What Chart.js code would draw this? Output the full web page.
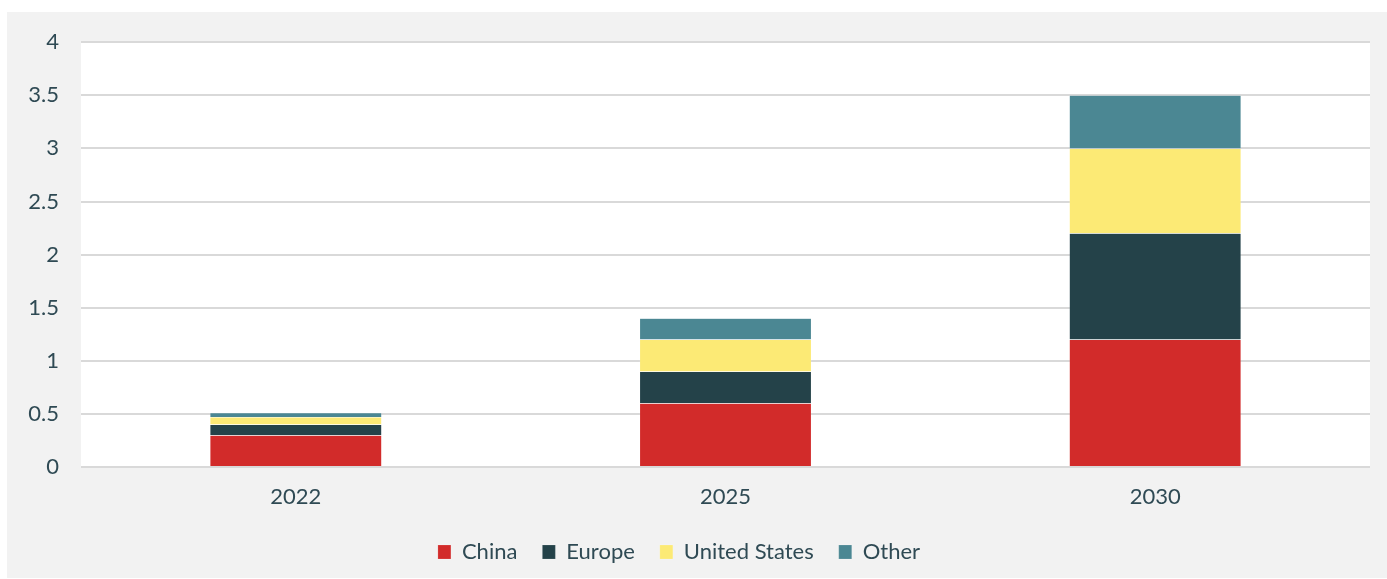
<!DOCTYPE html>
<html>
<head>
<meta charset="utf-8">
<script src="https://cdn.jsdelivr.net/npm/chart.js@4/dist/chart.umd.min.js"></script>
<style>
  html, body { margin: 0; padding: 0; background: #ffffff; }
  #wrap {
    position: absolute;
    left: 7px;
    top: 12px;
    width: 1380px;
    height: 566px;
    background: #f2f2f2;
  }
  #inner {
    position: absolute;
    left: 0;
    top: -5px;
    width: 1380px;
    height: 571px;
  }
</style>
</head>
<body>
<div id="wrap"><div id="inner"><canvas id="chart"></canvas></div></div>
<script>
const years = ["2022", "2025", "2030"];
const china = [0.3, 0.6, 1.2];
const europe = [0.1, 0.3, 1.0];
const unitedStates = [0.07, 0.3, 0.8];
const other = [0.04, 0.2, 0.5];
const yTicks = [0, 0.5, 1, 1.5, 2, 2.5, 3, 3.5, 4];

const textColor = "#2f4a54";
const fontFamily = "Lato, 'Open Sans', sans-serif";

// white fill behind the plot area only
const plotBackground = {
  id: "plotBackground",
  beforeDraw(chart) {
    const { ctx, chartArea } = chart;
    ctx.save();
    ctx.fillStyle = "#ffffff";
    ctx.fillRect(chartArea.left, chartArea.top, chartArea.right - chartArea.left, chartArea.bottom - chartArea.top);
    ctx.restore();
  }
};

function series(label, data, color) {
  return {
    label: label,
    data: data,
    backgroundColor: color,
    borderColor: "rgba(255,255,255,0.3)",
    borderWidth: 0.5,
    barPercentage: 0.4,
    categoryPercentage: 1
  };
}

new Chart(document.getElementById("chart"), {
  type: "bar",
  data: {
    labels: years,
    datasets: [
      series("China", china, "#d22b2a"),
      series("Europe", europe, "#244249"),
      series("United States", unitedStates, "#fcea75"),
      series("Other", other, "#4b8793")
    ]
  },
  options: {
    responsive: true,
    maintainAspectRatio: false,
    animation: false,
    layout: { padding: { top: 25, right: 17, left: -19, bottom: 5 } },
    scales: {
      x: {
        stacked: true,
        grid: { display: false, drawTicks: false },
        border: { display: false },
        ticks: {
          color: textColor,
          padding: 17,
          font: { family: fontFamily, size: 22 }
        },
        afterFit(scale) { scale.height = 49; }
      },
      y: {
        stacked: true,
        min: 0,
        max: 4,
        afterBuildTicks(scale) {
          scale.ticks = yTicks.map(v => ({ value: v }));
        },
        grid: { color: "#d9d9d9", lineWidth: 2, drawTicks: false },
        border: { display: false },
        ticks: {
          color: textColor,
          padding: 22,
          font: { family: fontFamily, size: 22 },
          callback: value => String(value)
        },
        afterFit(scale) { scale.width = 93; }
      }
    },
    plugins: {
      legend: {
        position: "bottom",
        labels: {
          color: textColor,
          boxWidth: 13,
          boxHeight: 14,
          padding: 25,
          font: { family: fontFamily, size: 22 }
        }
      },
      tooltip: { enabled: false }
    }
  },
  plugins: [plotBackground]
});
</script>
</body>
</html>
